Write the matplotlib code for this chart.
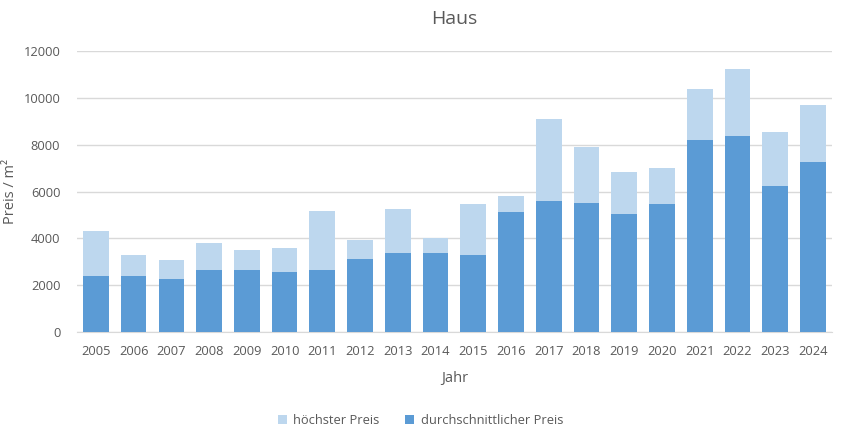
import numpy as np
import matplotlib.pyplot as plt

plt.rcParams['font.family'] = ['Open Sans', 'DejaVu Sans']

# Jahre und Preise (EUR / m2)
jahre = ['2005', '2006', '2007', '2008', '2009', '2010', '2011', '2012', '2013', '2014',
         '2015', '2016', '2017', '2018', '2019', '2020', '2021', '2022', '2023', '2024']
hoechster = [4320, 3290, 3080, 3800, 3510, 3590, 5170, 3930, 5260, 4000,
             5470, 5810, 9110, 7910, 6840, 7010, 10390, 11240, 8550, 9700]
durchschnitt = [2390, 2390, 2270, 2650, 2650, 2570, 2650, 3120, 3380, 3380,
                3290, 5130, 5600, 5520, 5040, 5470, 8210, 8380, 6240, 7270]

text_col = '#595959'
grid_col = '#d9d9d9'

fig = plt.figure(figsize=(8.41, 4.36), dpi=100)
ax = fig.add_axes([0.0916, 0.2385, 0.8974, 0.6438])

x = np.arange(len(jahre))
ax.bar(x, hoechster, width=0.68, color='#bdd7ee', label='höchster Preis', zorder=2)
ax.bar(x, durchschnitt, width=0.68, color='#5b9bd5', label='durchschnittlicher Preis', zorder=3)

ax.set_xlim(-0.5, len(jahre) - 0.5)
ax.set_ylim(0, 12000)
ax.set_yticks(range(0, 12001, 2000))
ax.set_xticks(x)
ax.set_xticklabels(jahre)
ax.yaxis.grid(True, color=grid_col, linewidth=1, zorder=0)
ax.set_axisbelow(True)
for s in ['top', 'right', 'left']:
    ax.spines[s].set_visible(False)
ax.spines['bottom'].set_color(grid_col)
ax.tick_params(length=0, colors=text_col, labelsize=9.3)
ax.tick_params(axis='x', pad=9)
ax.tick_params(axis='y', pad=12)

ax.set_title('Haus', color=text_col, fontsize=14, pad=20)
ax.set_xlabel('Jahr', color=text_col, fontsize=10.5, labelpad=10)
ax.set_ylabel('Preis / m²', color=text_col, fontsize=10.5, labelpad=4)

leg = fig.legend(loc='lower center', bbox_to_anchor=(0.5, -0.005), ncol=2, frameon=False,
                 fontsize=9.3, handlelength=0.7, handleheight=0.7, columnspacing=2.0,
                 handletextpad=0.5)
for t in leg.get_texts():
    t.set_color(text_col)

fig.savefig('out.png', dpi=100)
